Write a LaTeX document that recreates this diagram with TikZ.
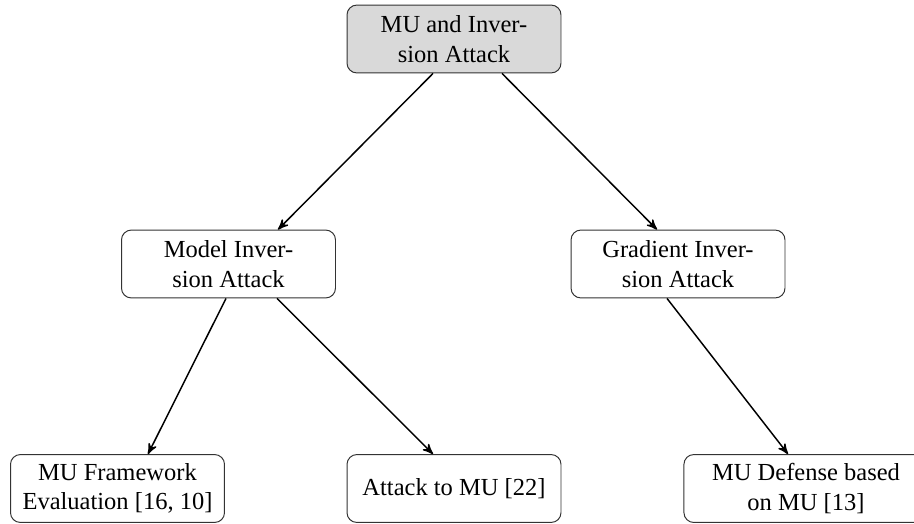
\documentclass[tikz,border=0pt]{standalone}
\usepackage{fontspec}
\setmainfont{Liberation Serif}
\usepackage{tikz}
\usetikzlibrary{arrows}
\usetikzlibrary{calc}
\definecolor{boxgray}{RGB}{217,217,217}
\tikzset{block/.style={rectangle,draw=black!80,rounded corners=4pt,minimum width=87.3pt,minimum height=27.7pt,align=center,inner sep=2pt}}
\tikzset{rootblock/.style={block,fill=boxgray}}
\tikzset{line/.style={black,>=stealth',semithick}}

\begin{document}
\begin{tikzpicture}[x=0.408pt,y=-0.408pt]
  \useasboundingbox (0,0) rectangle (914,523);

  % Nodes
  \node[rootblock] (root) at (454,39) {MU and Inver-\\sion Attack};
  \node[block] (model) at (228.5,264) {Model Inver-\\sion Attack};
  \node[block] (grad) at (678,264) {Gradient Inver-\\sion Attack};
  \node[block] (frame) at (117.5,488.5) {MU Framework\\Evaluation [16, 10]};
  \node[block] (attack) at (454,488.5) {Attack to MU [22]};
  \node[block,minimum width=99.6pt] (defense) at (806,488.5) {MU Defense based\\on MU [13]};

  % Arrows
  \draw[line,->] ($(root.south)+(-21,0)$) -- ($(model.north)+(49.5,0)$);
  \draw[line,->] ($(root.south)+(48,0)$) -- ($(grad.north)+(-21,0)$);
  \draw[line,->] ($(model.south)+(-2.5,0)$) -- ($(frame.north)+(30.5,0)$);
  \draw[line,->] ($(model.south)+(48.5,0)$) -- ($(attack.north)+(-21,0)$);
  \draw[line,->] ($(grad.south)+(-11,0)$) -- ($(defense.north)+(-18,0)$);
\end{tikzpicture}
\end{document}
